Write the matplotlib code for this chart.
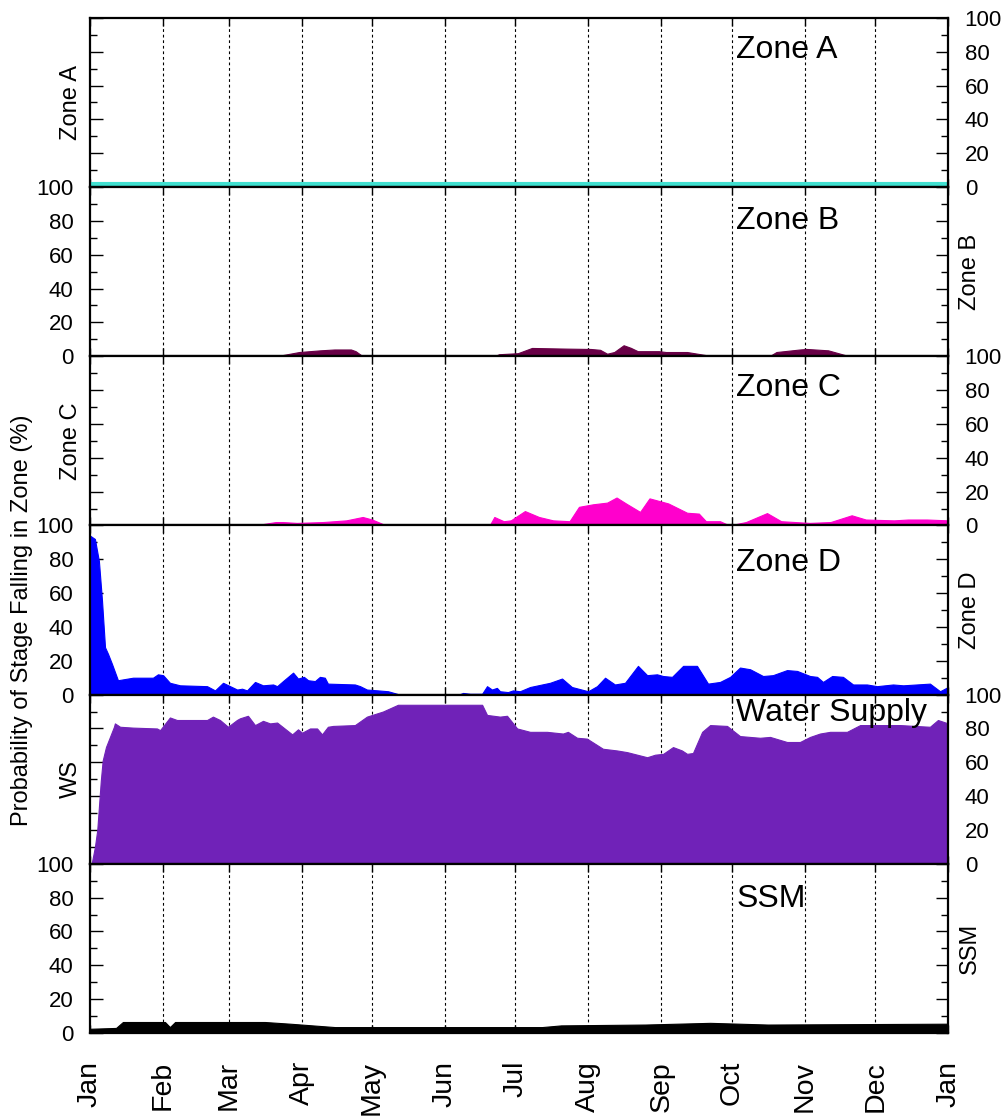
import numpy as np
import matplotlib
matplotlib.use('Agg')
import matplotlib.pyplot as plt
from matplotlib.ticker import MultipleLocator

plt.rcParams['font.family'] = ['Liberation Sans', 'DejaVu Sans']

# month boundaries (day of year) and labels
month_days = [0, 31, 59, 90, 120, 151, 181, 212, 243, 273, 304, 334, 365]
month_labels = ["Jan", "Feb", "Mar", "Apr", "May", "Jun", "Jul",
                "Aug", "Sep", "Oct", "Nov", "Dec", "Jan"]

# probability (%) of stage falling in each zone
zone_a_day = [0, 365]
zone_a_pct = [3, 3]

zone_b_day = [0, 67, 69, 82, 89, 98, 104, 111, 113, 116, 172, 174, 182, 188,
              203, 213, 217, 220, 223, 227, 230, 233, 242, 245, 254, 265, 289,
              292, 302, 305, 314, 323, 365]
zone_b_pct = [0, 0, 0.5, 0.7, 2.5, 3.5, 4, 4, 3, 0, 0, 1.2, 1.8, 4.9,
              4.5, 4.3, 3.8, 1.5, 2.5, 6.5, 5, 3, 3, 2.5, 2.5, 0, 0,
              2.5, 4, 4.3, 3.5, 0, 0]

zone_c_day = [0, 70, 79, 82, 88, 99, 109, 116, 120, 126, 170, 172, 176, 179,
              185, 191, 197, 204, 208, 214, 220, 224, 228, 234, 238, 246, 254,
              259, 262, 268, 272, 279, 288, 294, 306, 315, 324, 330, 342, 348,
              356, 365]
zone_c_pct = [0, 0, 2, 2, 1.5, 2, 3, 5, 3.5, 0, 0, 5, 2.5, 3,
              8.5, 5, 3, 2.5, 11, 12.5, 13.5, 16.5, 13, 8, 16, 13, 7.5,
              7, 2.5, 2.5, 0, 2, 7.3, 2.5, 1.5, 2, 6, 3.5, 3, 3.5,
              3.5, 3]

zone_d_day = [0, 2.1, 3.8, 5.1, 6.4, 7.7, 9.4, 11.9, 14, 18.3, 26.8, 28.9, 31.1,
              34, 38.3, 49.8, 53.2, 56.6, 59.6, 62.6, 64.7, 66.8, 70.2, 73.6,
              77.9, 79.6, 82.1, 86.4, 88.5, 91, 92.8, 95.7, 97.8, 99.9, 101.2,
              112.7, 114.9, 117.8, 122.5, 126.8, 130.6, 131, 157.4, 158.7,
              161.7, 166.8, 168.9, 171, 173.1, 174.4, 177.8, 179.9, 182.9,
              187.2, 195.7, 200.8, 205, 211.9, 215.7, 219.1, 223.3, 227.6,
              233.1, 237, 241.2, 243.8, 247.6, 252.3, 258.2, 262.9, 268,
              272.3, 276.5, 280.8, 286.3, 290.5, 296.5, 300.8, 306.3, 309.3,
              311.8, 315.7, 320.3, 324.6, 330.5, 334.8, 341.6, 345.9, 357.3,
              361.6, 365]
zone_d_pct = [94, 92, 79, 56, 28, 24, 18, 8.5, 9, 10, 10, 12, 11.5,
              7, 5.5, 5, 2.5, 7, 5, 3, 3.5, 2.5, 7.5, 5.5,
              6, 5, 8, 13, 9.5, 10.5, 8.5, 8, 10.5, 10, 6.5,
              6, 5, 3, 2.5, 2, 0.5, 0.2, 0.3, 1,
              0.5, 0.5, 5, 3, 4, 2, 1.5, 2.5, 2,
              4.5, 7, 9.5, 4.5, 2, 5, 10, 6, 7,
              17, 11.5, 12, 11, 10.5, 17, 17, 6.5, 7.5,
              10.5, 16, 15, 11, 11.5, 14.5, 14, 11, 10.5,
              7.5, 11, 10.5, 6, 6, 5, 6, 5.5, 6.5,
              2, 4.5]

ws_day = [0, 0.7, 2.1, 3.1, 4.6, 5.4, 6.8, 8.5, 10.2, 10.6, 12.8, 18.3, 28.5,
          29.8, 34, 37, 49.8, 52.3, 55.3, 58.7, 62.5, 63.8, 67.2, 70.2, 73.6,
          76.6, 79.6, 86, 88.5, 90.2, 93.6, 96.6, 98.7, 101.2, 103.4, 112.7,
          117.8, 124.6, 131, 166.8, 168.9, 174.4, 177.4, 181.7, 187.2, 194.4,
          201.2, 203.3, 207.2, 211.4, 218.2, 224.2, 228.5, 237, 240.4, 243.8,
          248, 251.8, 254, 256.5, 260.4, 263.8, 271, 276.5, 285, 289.3, 296.5,
          302, 306.3, 310.5, 314.8, 322, 327.6, 344.6, 357.3, 360.7, 365]
ws_pct = [0, 0, 10, 20, 49, 61, 69, 75, 81, 83, 81, 80.5, 80,
          79, 86.5, 85, 85, 87, 85, 81, 85, 86, 87.5, 82, 84.5,
          83, 83.5, 76.5, 79.5, 77.5, 80, 80, 76.5, 81, 81.5, 82,
          87, 90, 94, 94, 88, 87, 87.5, 80, 78, 78,
          77, 78, 74.5, 74, 68, 67, 66, 63, 64.5, 65,
          69, 67, 65, 65.5, 78, 82, 81.5, 75.5, 74.5, 75, 72,
          72, 75, 77, 78, 78, 82, 82, 81, 85, 83]

ssm_day = [0, 11.1, 14, 30.2, 31.9, 34, 36.2, 74.4, 85.1, 104.2, 192.3, 200.4,
           236.1, 263.8, 288.4, 365]
ssm_pct = [2.5, 3, 6.5, 6.5, 6.5, 3.5, 6.5, 6.5, 5.5, 3.5, 3.5, 4.5,
           5, 6, 5, 5.5]

panels = [
    (zone_a_day, zone_a_pct, '#40e0d0', 'Zone A', 'Zone A'),
    (zone_b_day, zone_b_pct, '#680046', 'Zone B', 'Zone B'),
    (zone_c_day, zone_c_pct, '#ff00cc', 'Zone C', 'Zone C'),
    (zone_d_day, zone_d_pct, '#0000ff', 'Zone D', 'Zone D'),
    (ws_day, ws_pct, '#7022b8', 'Water Supply', 'WS'),
    (ssm_day, ssm_pct, '#000000', 'SSM', 'SSM'),
]
# title y position (axes fraction) per panel
title_y = [0.81, 0.80, 0.81, 0.78, 0.89, 0.79]

fig = plt.figure(figsize=(10.03, 11.17), dpi=100)
gs = fig.add_gridspec(6, 1, left=0.0897, right=0.9452, top=0.984,
                      bottom=0.0752, hspace=0)

axes = []
for i, (days, pct, col, title, ylab) in enumerate(panels):
    ax = fig.add_subplot(gs[i], sharex=axes[0] if axes else None)
    axes.append(ax)
    ax.fill_between(days, 0, pct, color=col, lw=0.8, edgecolor=col, zorder=2)
    ax.set_xlim(0, 365)
    ax.set_ylim(0, 100)
    ax.yaxis.set_major_locator(MultipleLocator(20))
    ax.yaxis.set_minor_locator(MultipleLocator(10))
    ax.set_xticks(month_days)
    for x in month_days[1:-1]:
        ax.axvline(x, color='k', lw=0.8, ls=(0, (2.5, 2.5)), zorder=1)

    left = (i % 2 == 1)  # tick labels alternate sides
    ax.tick_params(axis='y', which='both', direction='in', left=True,
                   right=True, labelleft=left, labelright=not left,
                   labelsize=16, pad=12)
    ax.tick_params(axis='y', which='major', length=9, width=1)
    ax.tick_params(axis='y', which='minor', length=5, width=1)
    ax.tick_params(axis='x', direction='in', top=True, bottom=True,
                   length=6, width=1, labelbottom=(i == 5))
    for s in ax.spines.values():
        s.set_linewidth(1.6)

    # axis label on the side opposite the tick labels
    if left:
        ax.yaxis.set_label_position('right')
        ax.set_ylabel(ylab, fontsize=17, labelpad=8)
    else:
        ax.set_ylabel(ylab, fontsize=17, labelpad=6)

    ax.text(0.753, title_y[i], title, transform=ax.transAxes,
            fontsize=23, va='center', ha='left', zorder=5)

axes[-1].set_xticklabels(month_labels, rotation=90, fontsize=20.5)
axes[-1].tick_params(axis='x', pad=20)

fig.text(0.022, 0.445, "Probability of Stage Falling in Zone (%)",
         rotation=90, fontsize=17, ha='center', va='center')

fig.savefig("out.png", dpi=100)
